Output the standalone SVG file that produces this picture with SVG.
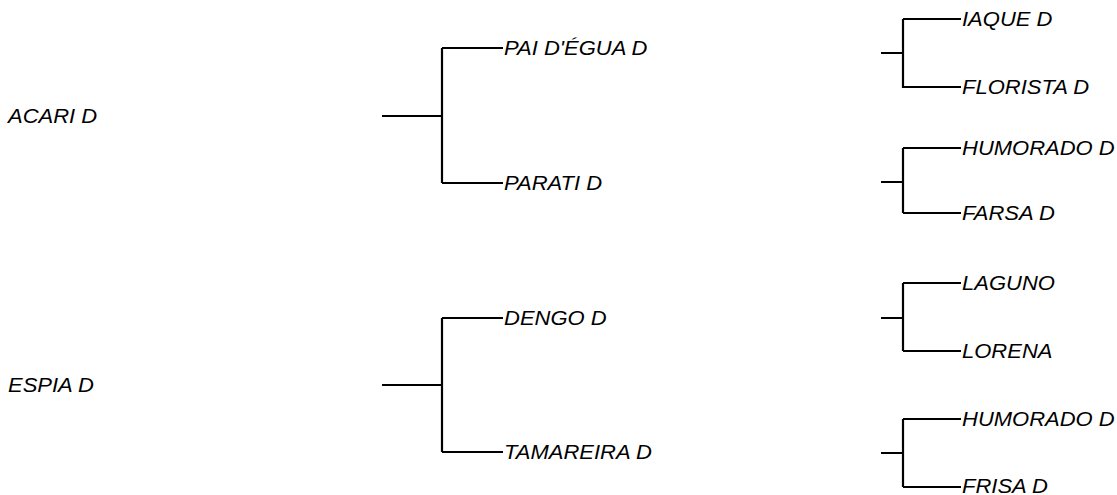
<svg xmlns="http://www.w3.org/2000/svg" width="1117" height="495" viewBox="0 0 1117 495">
<style>
.lbl{font-family:"Liberation Sans",Arial,sans-serif;font-style:italic;font-size:20px;fill:#000}
.edge{fill:none;stroke:#000;stroke-width:2.2}
</style>
<rect width="1117" height="495" fill="#fff"/>
<g id="connectors">
<path class="edge" d="M382,116H442M442,48V183M442,48H503M442,183H503"/>
<path class="edge" d="M382,385H442M442,318V452M442,318H503M442,452H503"/>
<path class="edge" d="M881,53H903M903,19V88M903,19H961M903,87H961"/>
<path class="edge" d="M881,182H903M903,148V213M903,148H961M903,213H961"/>
<path class="edge" d="M881,318H903M903,283V351M903,283H961M903,351H961"/>
<path class="edge" d="M881,453H903M903,419V487M903,419H961M903,487H961"/>
</g>
<g id="n-acari"><text class="lbl" transform="translate(8 123) scale(1.1 1)">ACARI D</text></g>
<g id="n-espia"><text class="lbl" transform="translate(8 392) scale(1.1 1)">ESPIA D</text></g>
<g id="n-paidagua"><text class="lbl" transform="translate(504 55) scale(1.1 1)">PAI D'ÉGUA D</text></g>
<g id="n-parati"><text class="lbl" transform="translate(504 190) scale(1.1 1)">PARATI D</text></g>
<g id="n-dengo"><text class="lbl" transform="translate(504 325) scale(1.1 1)">DENGO D</text></g>
<g id="n-tamareira"><text class="lbl" transform="translate(504 459) scale(1.1 1)">TAMAREIRA D</text></g>
<g id="n-iaque"><text class="lbl" transform="translate(962 26) scale(1.1 1)">IAQUE D</text></g>
<g id="n-florista"><text class="lbl" transform="translate(962 94) scale(1.1 1)">FLORISTA D</text></g>
<g id="n-humorado1"><text class="lbl" transform="translate(962 155) scale(1.1 1)">HUMORADO D</text></g>
<g id="n-farsa"><text class="lbl" transform="translate(962 220) scale(1.1 1)">FARSA D</text></g>
<g id="n-laguno"><text class="lbl" transform="translate(962 290) scale(1.1 1)">LAGUNO</text></g>
<g id="n-lorena"><text class="lbl" transform="translate(962 358) scale(1.1 1)">LORENA</text></g>
<g id="n-humorado2"><text class="lbl" transform="translate(962 426) scale(1.1 1)">HUMORADO D</text></g>
<g id="n-frisa"><text class="lbl" transform="translate(962 493) scale(1.1 1)">FRISA D</text></g>
</svg>
